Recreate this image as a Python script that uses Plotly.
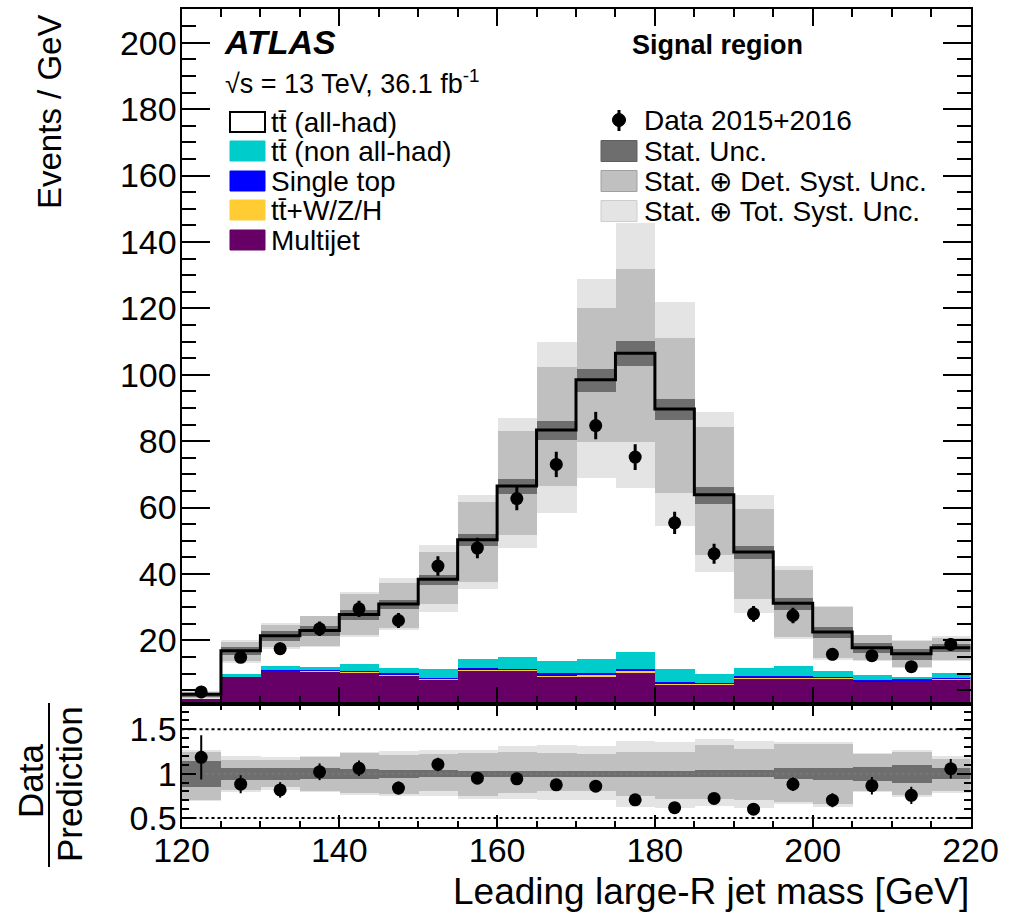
import numpy as np
import plotly.graph_objects as go

# ---------------- data ----------------
bin_edges = [120, 125, 130, 135, 140, 145, 150, 155, 160, 165, 170,
             175, 180, 185, 190, 195, 200, 205, 210, 215, 220]

data = [4.5, 14.9, 17.5, 23.5, 29.5, 26.0, 42.4, 47.8, 62.7, 73.0,
        84.7, 75.2, 55.4, 46.1, 28.0, 27.5, 15.8, 15.4, 12.1, 18.8]
data_err = [0.95, 1.73, 1.87, 2.17, 2.43, 2.28, 2.91, 3.09, 3.54, 3.82,
            4.12, 3.88, 3.33, 3.04, 2.37, 2.35, 1.78, 1.75, 1.56, 1.94]

mc_total = [3.8, 16.9, 21.4, 23.0, 27.8, 31.0, 38.4, 50.3, 66.5, 83.4,
            98.5, 106.5, 89.7, 63.9, 46.6, 31.2, 22.5, 17.8, 16.0, 17.8]

multijet = [2.8, 9.0, 11.0, 10.8, 10.4, 9.7, 8.3, 11.0, 11.0, 9.3,
            9.3, 10.5, 6.8, 6.8, 8.7, 8.7, 8.8, 7.7, 8.1, 8.5]
ttV = [0.05, 0.1, 0.2, 0.3, 0.3, 0.3, 0.4, 0.5, 0.4, 0.4,
       0.5, 0.5, 0.4, 0.3, 0.3, 0.3, 0.2, 0.1, 0.1, 0.3]
single_top = [0.05, 0.1, 0.1, 0.2, 0.3, 0.3, 0.2, 0.2, 0.2, 0.5,
              0.6, 0.6, 0.5, 0.2, 0.3, 0.3, 0.1, 0.4, 0.2, 0.1]
tt_nonallhad = [0.3, 0.9, 1.1, 0.9, 2.0, 1.5, 2.6, 2.8, 3.5, 3.7,
                4.3, 5.0, 3.7, 2.6, 2.5, 3.0, 1.8, 1.5, 0.75, 1.5]

# relative uncertainties
stat_rel = [0.145, 0.07, 0.07, 0.06, 0.055, 0.045, 0.04, 0.035, 0.035, 0.035,
            0.035, 0.035, 0.035, 0.04, 0.04, 0.06, 0.07, 0.08, 0.10, 0.065]
det_up = [0.25, 0.16, 0.16, 0.19, 0.23, 0.21, 0.22, 0.23, 0.25, 0.23,
          0.22, 0.24, 0.24, 0.32, 0.28, 0.33, 0.34, 0.22, 0.24, 0.17]
det_dn = [0.30, 0.18, 0.15, 0.20, 0.22, 0.23, 0.19, 0.25, 0.22, 0.20,
          0.19, 0.25, 0.28, 0.28, 0.30, 0.32, 0.34, 0.20, 0.24, 0.20]
tot_up = [0.27, 0.20, 0.19, 0.20, 0.25, 0.26, 0.27, 0.27, 0.31, 0.32,
          0.31, 0.37, 0.36, 0.39, 0.37, 0.36, 0.36, 0.23, 0.27, 0.20]
tot_dn = [0.31, 0.21, 0.18, 0.21, 0.24, 0.25, 0.25, 0.29, 0.28, 0.30,
          0.30, 0.38, 0.39, 0.36, 0.39, 0.34, 0.37, 0.21, 0.26, 0.22]

# ---------------- styles ----------------
FONT = "Liberation Sans, Arial, Helvetica, sans-serif"
C_MJ = "rgb(102,0,102)"
C_TTV = "rgb(255,204,51)"
C_ST = "rgb(0,0,255)"
C_NAH = "rgb(0,204,204)"
C_STAT = "rgb(110,110,110)"
C_DET = "rgb(192,192,192)"
C_TOT = "rgb(228,228,228)"

W, H = 1019, 920
def px(x):
    return x / W
def py(y):
    return 1 - y / H

edges = np.array(bin_edges, dtype=float)
centers = 0.5 * (edges[:-1] + edges[1:])
widths = np.diff(edges)
mc = np.array(mc_total)
mj = np.array(multijet)
tv = np.array(ttV)
st = np.array(single_top)
nah = np.array(tt_nonallhad)
allhad = mc - (mj + tv + st + nah)
d = np.array(data)
de = np.array(data_err)
ratio = d / mc
ratio_err = de / mc

fig = go.Figure()

def barlayer(base, height, color, xa, ya):
    fig.add_trace(go.Bar(
        x=centers, y=height, base=base, width=widths,
        marker=dict(color=color, line=dict(width=0)),
        xaxis=xa, yaxis=ya, showlegend=False, hoverinfo="skip"))

# stacked backgrounds
barlayer(np.zeros_like(mj), mj, C_MJ, "x", "y")
barlayer(mj, tv, C_TTV, "x", "y")
barlayer(mj + tv, st, C_ST, "x", "y")
barlayer(mj + tv + st, nah, C_NAH, "x", "y")
barlayer(mj + tv + st + nah, allhad, "white", "x", "y")

# uncertainty bands (main)
su = np.array(stat_rel)
du, dd = np.array(det_up), np.array(det_dn)
tu, td = np.array(tot_up), np.array(tot_dn)
barlayer(mc * (1 - td), mc * (tu + td), C_TOT, "x", "y")
barlayer(mc * (1 - dd), mc * (du + dd), C_DET, "x", "y")
barlayer(mc * (1 - su), mc * (2 * su), C_STAT, "x", "y")

# total prediction step line
fig.add_trace(go.Scatter(
    x=edges, y=np.append(mc, mc[-1]), mode="lines",
    line=dict(color="black", width=3, shape="hv"),
    xaxis="x", yaxis="y", showlegend=False, hoverinfo="skip"))

# data
fig.add_trace(go.Scatter(
    x=centers, y=d, mode="markers",
    marker=dict(color="black", size=13),
    error_y=dict(type="data", array=de, color="black", thickness=3, width=0),
    xaxis="x", yaxis="y", showlegend=False))

# ratio bands
barlayer(1 - td, tu + td, C_TOT, "x2", "y2")
barlayer(1 - dd, du + dd, C_DET, "x2", "y2")
barlayer(1 - su, 2 * su, C_STAT, "x2", "y2")

# reference lines in ratio
for val, col in [(0.5, "black"), (1.5, "black"), (1.0, "rgb(120,120,120)")]:
    fig.add_trace(go.Scatter(
        x=[edges[0], edges[-1]], y=[val, val], mode="lines",
        line=dict(color=col, width=2, dash="dot"),
        xaxis="x2", yaxis="y2", showlegend=False, hoverinfo="skip"))

fig.add_trace(go.Scatter(
    x=centers, y=ratio, mode="markers",
    marker=dict(color="black", size=13),
    error_y=dict(type="data", array=ratio_err, color="black", thickness=2, width=0),
    xaxis="x2", yaxis="y2", showlegend=False))

# ---------------- axes ----------------
xdom = [px(181.5), px(970.5)]
main_dom = [py(703.5), py(8.5)]
ratio_dom = [py(827), py(704)]

common_ax = dict(showline=True, linewidth=2, linecolor="black", mirror="allticks",
                 ticks="inside", tickwidth=2, tickcolor="black", showgrid=False,
                 zeroline=False, automargin=False,
                 tickfont=dict(family=FONT, size=34, color="black"))

fig.update_layout(
    width=W, height=H,
    margin=dict(l=0, r=0, t=0, b=0, autoexpand=False),
    paper_bgcolor="white", plot_bgcolor="white",
    barmode="overlay", bargap=0,
    showlegend=False,
    xaxis=dict(domain=xdom, anchor="y", range=[120, 220], dtick=20, tick0=120,
               ticklen=17, showticklabels=False,
               minor=dict(dtick=5, tick0=120, ticklen=8, tickwidth=2, ticks="inside", tickcolor="black"),
               **common_ax),
    yaxis=dict(domain=main_dom, anchor="x", range=[1.0, 210.3], dtick=20, tick0=0,
               ticklen=28, ticklabelstandoff=-4,
               minor=dict(dtick=5, tick0=0, ticklen=14, tickwidth=2, ticks="inside", tickcolor="black"),
               **common_ax),
    xaxis2=dict(domain=xdom, anchor="y2", range=[120, 220], matches="x", dtick=20, tick0=120,
                ticklen=12, ticklabelstandoff=-8,
                minor=dict(dtick=5, tick0=120, ticklen=6, tickwidth=2, ticks="inside", tickcolor="black"),
                **common_ax),
    yaxis2=dict(domain=ratio_dom, anchor="x2", range=[0.4, 1.785],
                tickvals=[0.5, 1.0, 1.5], ticktext=["0.5", "1", "1.5"], ticklen=14,
                ticklabelstandoff=-4,
                minor=dict(dtick=0.1, tick0=0.4, ticklen=7, tickwidth=2, ticks="inside", tickcolor="black"),
                **common_ax),
)

# ---------------- text ----------------
ann = []
shapes = []

def text(x, y, s, size, xanchor="left", angle=0, yanchor="middle"):
    ann.append(dict(x=px(x), y=py(y), xref="paper", yref="paper", text=s,
                    showarrow=False, xanchor=xanchor, yanchor=yanchor, textangle=angle,
                    font=dict(family=FONT, size=size, color="black")))

text(50, 112, "Events / GeV", 33, xanchor="center", angle=-90)
text(30, 781, "Data", 35, xanchor="center", angle=-90)
text(69, 784, "Prediction", 35, xanchor="center", angle=-90)
shapes.append(dict(type="line", xref="paper", yref="paper",
                   x0=px(49), x1=px(49), y0=py(703), y1=py(867),
                   line=dict(color="black", width=2)))
text(971, 891, "Leading large-R jet mass [GeV]", 37, xanchor="right")

text(222, 42, "<b><i>ATLAS</i></b>", 34)
text(223, 82, "\u221As = 13 TeV, 36.1 fb<sup>-1</sup>", 27)
text(630, 45, "<b>Signal region</b>", 27)

# left legend
left_items = [
    ("tt\u0304 (all-had)", "white", "black", 122),
    ("tt\u0304 (non all-had)", C_NAH, C_NAH, 151),
    ("Single top", C_ST, C_ST, 181),
    ("tt\u0304+W/Z/H", C_TTV, C_TTV, 210),
    ("Multijet", C_MJ, C_MJ, 240),
]
for lab, fc, lc, yc in left_items:
    shapes.append(dict(type="rect", xref="paper", yref="paper",
                       x0=px(230), x1=px(265), y0=py(yc + 10), y1=py(yc - 10),
                       fillcolor=fc, line=dict(color=lc, width=2 if lc == "black" else 1)))
    text(269, yc, lab, 28)

# right legend
shapes.append(dict(type="line", xref="paper", yref="paper",
                   x0=px(619), x1=px(619), y0=py(110), y1=py(131),
                   line=dict(color="black", width=3)))
shapes.append(dict(type="circle", xref="paper", yref="paper",
                   x0=px(612.5), x1=px(625.5), y0=py(126.5), y1=py(113.5),
                   fillcolor="black", line=dict(color="black", width=1)))
text(642, 120, "Data 2015+2016", 28)
right_items = [
    ("Stat. Unc.", C_STAT, "rgb(95,95,95)", 151),
    ("Stat. \u2295 Det. Syst. Unc.", C_DET, "rgb(160,160,160)", 181),
    ("Stat. \u2295 Tot. Syst. Unc.", C_TOT, "rgb(205,205,205)", 211),
]
for lab, fc, lc, yc in right_items:
    shapes.append(dict(type="rect", xref="paper", yref="paper",
                       x0=px(601), x1=px(637), y0=py(yc + 10.5), y1=py(yc - 10.5),
                       fillcolor=fc, line=dict(color=lc, width=1)))
    text(642, yc, lab, 28)

fig.update_layout(annotations=ann, shapes=shapes)

fig.write_html("out.html")
